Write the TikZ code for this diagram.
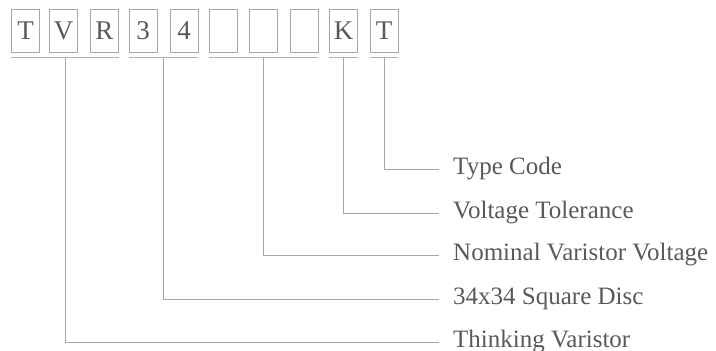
\documentclass[tikz,border=0pt]{standalone}
\usepackage{fontspec}
\setmainfont{Liberation Serif}
\usetikzlibrary{positioning}

\begin{document}
\begin{tikzpicture}[
  x=1pt, y=-1pt,
  cell/.style={draw=gray!70, line width=0.9pt, minimum width=28pt, minimum height=43pt, inner sep=0pt, text=black!65, font=\fontsize{27}{30}\selectfont},
  lab/.style={anchor=base west, inner sep=0pt, text=black!65, font=\fontsize{25}{29}\selectfont},
  bar/.style={draw=gray!60, line width=1.6pt},
  lead/.style={draw=gray!70, line width=0.9pt}
]
\useasboundingbox (0,0) rectangle (716,351);

% Code cells
\foreach \name/\xx/\txt in {c1/25.5/T, c2/63.5/V, c3/104.5/R, c4/143/3, c5/184/4, c6/223.5/{}, c7/263.5/{}, c8/304/{}, c9/343.5/K, c10/384/T}
  \node[cell] (\name) at (\xx,30.5) {\txt};

% Group bars
\foreach \aa/\bb/\gg in {c1/c3/gtvr, c4/c5/gsize, c6/c8/gvolt, c9/c9/gtol, c10/c10/gtype}{
  \draw[bar] ([yshift=-5pt]\aa.south west) -- ([yshift=-5pt]\bb.south east) coordinate[midway] (\gg);
}

% Labels
\node[lab] (ltype) at (453,174) {Type Code};
\node[lab] (ltol) at (453,218) {Voltage Tolerance};
\node[lab] (lvolt) at (453,260) {Nominal Varistor Voltage};
\node[lab] (lsize) at (453,304) {34x34 Square Disc};
\node[lab] (ltvr) at (453,347) {Thinking Varistor};

% Leaders
\draw[lead, shorten >=14pt] (gtype) |- ([yshift=5pt]ltype.base west);
\draw[lead, shorten >=14pt] (gtol) |- ([yshift=5pt]ltol.base west);
\draw[lead, shorten >=14pt] (gvolt) |- ([yshift=5pt]lvolt.base west);
\draw[lead, shorten >=14pt] (gsize) |- ([yshift=5pt]lsize.base west);
\draw[lead, shorten >=14pt] (gtvr) |- ([yshift=5pt]ltvr.base west);
\end{tikzpicture}
\end{document}
